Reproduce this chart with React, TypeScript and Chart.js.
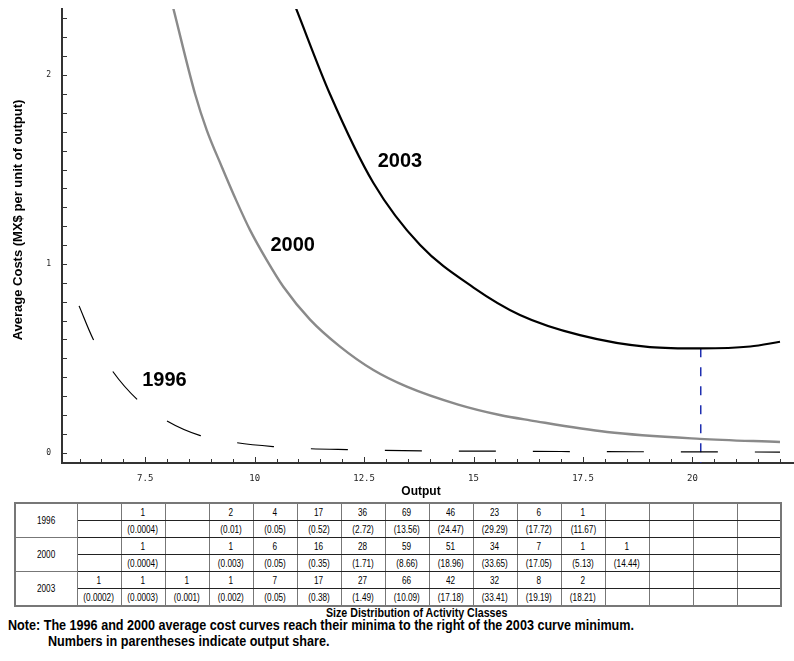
import React, { useEffect, useRef } from "react";
import { Chart, registerables } from "chart.js";

Chart.register(...registerables);

// ---- curve data (output, average cost) ----
const out2003 = [10.946, 11.72, 12.71, 13.78, 15.0, 16.06, 17.43, 19.03, 20.19, 21.32, 22.0];
const cost2003 = [2.353, 1.9, 1.43, 1.1, 0.875, 0.73, 0.623, 0.56, 0.553, 0.563, 0.588];

const out2000 = [8.143, 8.64, 8.906, 9.249, 9.592, 9.896, 10.277, 10.656, 11.266, 11.951, 12.712, 13.476, 14.65, 15.6, 16.29, 18.05, 20.17, 22.0];
const cost2000 = [2.353, 1.9, 1.709, 1.515, 1.33, 1.179, 1.02, 0.879, 0.705, 0.562, 0.438, 0.35, 0.255, 0.2, 0.172, 0.11, 0.074, 0.057];

const out1996 = [5.99, 6.31, 6.75, 7.32, 7.98, 8.76, 9.58, 10.42, 11.22, 12.11, 14.0, 16.0, 18.0, 20.0, 22.0];
const cost1996 = [0.778, 0.603, 0.434, 0.282, 0.171, 0.091, 0.054, 0.033, 0.022, 0.017, 0.01, 0.008, 0.006, 0.005, 0.004];

// minimum of the 2003 curve (vertical marker)
const minOut2003 = 20.19;
const minCost2003 = 0.553;

// curve labels
const curveLabels = ["2003", "2000", "1996"];
const curveLabelX = [13.32, 10.87, 7.94];
const curveLabelY = [1.54, 1.1, 0.385];

// axes
const xMin = 5.6;
const xMax = 22.32;
const yMin = -0.054;
const yMax = 2.35;
const xTickLabels = ["7.5", "10", "12.5", "15", "17.5", "20"];
const yTickLabels = ["0", "1", "2"];
const xTitle = "Output";
const yTitle = "Average Costs (MX$ per unit of output)";

// ---- table data ----
const tableYears = ["1996", "2000", "2003"];
const counts1996 = ["", "1", "", "2", "4", "17", "36", "69", "46", "23", "6", "1", "", "", "", ""];
const shares1996 = ["", "(0.0004)", "", "(0.01)", "(0.05)", "(0.52)", "(2.72)", "(13.56)", "(24.47)", "(29.29)", "(17.72)", "(11.67)", "", "", "", ""];
const counts2000 = ["", "1", "", "1", "6", "16", "28", "59", "51", "34", "7", "1", "1", "", "", ""];
const shares2000 = ["", "(0.0004)", "", "(0.003)", "(0.05)", "(0.35)", "(1.71)", "(8.66)", "(18.96)", "(33.65)", "(17.05)", "(5.13)", "(14.44)", "", "", ""];
const counts2003 = ["1", "1", "1", "1", "7", "17", "27", "66", "42", "32", "8", "2", "", "", "", ""];
const shares2003 = ["(0.0002)", "(0.0003)", "(0.001)", "(0.002)", "(0.05)", "(0.38)", "(1.49)", "(10.09)", "(17.18)", "(33.41)", "(19.19)", "(18.21)", "", "", "", ""];

const tableTitle = "Size Distribution of Activity Classes";
const note1 = "Note: The 1996 and 2000 average cost curves reach their minima to the right of the 2003 curve minimum.";
const note2 = "Numbers in parentheses indicate output share.";

const toPts = (xs: number[], ys: number[]) => xs.map((x, i) => ({ x, y: ys[i] }));

const overlayPlugin = {
  id: "overlay",
  afterDatasetsDraw(chart: any) {
    const { ctx, chartArea } = chart;
    const xs = chart.scales.x;
    const ys = chart.scales.y;
    ctx.save();
    ctx.strokeStyle = "#333";
    ctx.lineWidth = 1;
    // x minor ticks every 0.5 (inside)
    for (let v = 6; v <= 22.001; v += 0.5) {
      const px = Math.round(xs.getPixelForValue(v)) + 0.5;
      const major = Math.abs(v / 2.5 - Math.round(v / 2.5)) < 1e-6;
      ctx.beginPath();
      ctx.moveTo(px, chartArea.bottom);
      ctx.lineTo(px, chartArea.bottom - (major ? 6 : 4));
      ctx.stroke();
    }
    // y minor ticks every 0.1 (inside)
    for (let v = 0; v <= 2.3001; v += 0.1) {
      const py = Math.round(ys.getPixelForValue(v)) + 0.5;
      ctx.beginPath();
      ctx.moveTo(chartArea.left, py);
      ctx.lineTo(chartArea.left + 5, py);
      ctx.stroke();
    }
    // curve labels
    ctx.fillStyle = "#000";
    ctx.font = 'bold 20px "Liberation Sans", Arial, sans-serif';
    ctx.textAlign = "center";
    ctx.textBaseline = "middle";
    curveLabels.forEach((t, i) => {
      ctx.fillText(t, xs.getPixelForValue(curveLabelX[i]), ys.getPixelForValue(curveLabelY[i]));
    });
    // axis titles
    ctx.font = 'bold 12px "Liberation Sans", Arial, sans-serif';
    ctx.fillText(xTitle, 421, 492);
    ctx.save();
    ctx.translate(18, 220);
    ctx.rotate(-Math.PI / 2);
    ctx.font = 'bold 13px "Liberation Sans", Arial, sans-serif';
    ctx.fillText(yTitle, 0, 0);
    ctx.restore();
    ctx.restore();
  },
};

function ChartCanvas() {
  const ref = useRef<HTMLCanvasElement | null>(null);
  useEffect(() => {
    if (!ref.current) return;
    const chart = new Chart(ref.current, {
      type: "line",
      data: {
        datasets: [
          {
            label: "2003",
            data: toPts(out2003, cost2003),
            borderColor: "#000",
            borderWidth: 2.2,
            pointRadius: 0,
            cubicInterpolationMode: "monotone",
          },
          {
            label: "2000",
            data: toPts(out2000, cost2000),
            borderColor: "#8a8a8a",
            borderWidth: 2.4,
            pointRadius: 0,
            cubicInterpolationMode: "monotone",
          },
          {
            label: "1996",
            data: toPts(out1996, cost1996),
            borderColor: "#000",
            borderWidth: 1.2,
            borderDash: [37, 37],
            pointRadius: 0,
            cubicInterpolationMode: "monotone",
          },
          {
            label: "min2003",
            data: [
              { x: minOut2003, y: minCost2003 },
              { x: minOut2003, y: yMin },
            ],
            borderColor: "#1f2fb0",
            borderWidth: 1.5,
            borderDash: [9, 10],
            pointRadius: 0,
          },
        ],
      },
      options: {
        responsive: false,
        animation: false,
        devicePixelRatio: 1,
        layout: { padding: { left: 0, right: 0, top: 9, bottom: 0 } },
        plugins: { legend: { display: false }, tooltip: { enabled: false } },
        scales: {
          x: {
            type: "linear",
            min: xMin,
            max: xMax,
            grid: { display: false, drawTicks: false },
            border: { display: true, color: "#333", width: 2 },
            ticks: {
              stepSize: 2.5,
              autoSkip: false,
              includeBounds: false,
              maxRotation: 0,
              padding: 10,
              color: "#222",
              font: { family: '"DejaVu Sans Mono", monospace', size: 9 },
              callback: (v: any) => {
                const s = String(Math.round(Number(v) * 10) / 10);
                return xTickLabels.includes(s) ? s : "";
              },
            },
            afterFit: (s: any) => {
              s.height = 37;
              s.paddingLeft = 0;
              s.paddingRight = 0;
            },
          },
          y: {
            type: "linear",
            min: yMin,
            max: yMax,
            grid: { display: false, drawTicks: false },
            border: { display: true, color: "#333", width: 2 },
            ticks: {
              stepSize: 1,
              includeBounds: false,
              padding: 11,
              color: "#222",
              font: { family: '"DejaVu Sans Mono", monospace', size: 8 },
              callback: (v: any) => {
                const s = String(v);
                return yTickLabels.includes(s) ? s : "";
              },
            },
            afterFit: (s: any) => {
              s.width = 62;
              s.paddingTop = 0;
              s.paddingBottom = 0;
            },
          },
        },
      },
      plugins: [overlayPlugin],
    } as any);
    return () => chart.destroy();
  }, []);
  return (
    <canvas
      ref={ref}
      width={794}
      height={500}
      style={{ position: "absolute", left: 0, top: 0, width: 794, height: 500, display: "block" }}
    />
  );
}

const narrow = (text: string, scale = 0.82, style: React.CSSProperties = {}) => (
  <span style={{ display: "inline-block", transform: `scaleX(${scale})`, transformOrigin: "center", whiteSpace: "nowrap", ...style }}>
    {text}
  </span>
);

function DistTable() {
  const rows = [
    [counts1996, shares1996],
    [counts2000, shares2000],
    [counts2003, shares2003],
  ];
  const cellBase: React.CSSProperties = {
    padding: 0,
    height: 16,
    textAlign: "center",
    verticalAlign: "middle",
    fontSize: 10,
    lineHeight: "15px",
    borderTop: "1px solid #222",
    borderBottom: "1px solid #222",
    borderLeft: "1px solid #777",
    borderRight: "1px solid #777",
    overflow: "hidden",
  };
  return (
    <table
      style={{
        position: "absolute",
        left: 14,
        top: 502,
        width: 768,
        borderCollapse: "collapse",
        tableLayout: "fixed",
        border: "2px solid #777",
        fontFamily: '"Liberation Sans", Arial, sans-serif',
        color: "#000",
      }}
    >
      <colgroup>
        <col style={{ width: 62 }} />
        {counts1996.map((_, i) => (
          <col key={i} style={{ width: 44 }} />
        ))}
      </colgroup>
      <tbody>
        {rows.map(([c, s], r) => (
          <React.Fragment key={r}>
            <tr style={{ height: 16.8 }}>
              <td rowSpan={2} style={{ ...cellBase, borderTop: "1px solid #777", borderBottom: "1px solid #777" }}>
                {narrow(tableYears[r])}
              </td>
              {c.map((t, i) => (
                <td key={i} style={cellBase}>
                  {t ? narrow(t) : null}
                </td>
              ))}
            </tr>
            <tr style={{ height: 16.8 }}>
              {s.map((t, i) => (
                <td key={i} style={cellBase}>
                  {t ? narrow(t) : null}
                </td>
              ))}
            </tr>
          </React.Fragment>
        ))}
      </tbody>
    </table>
  );
}

export default function App() {
  return (
    <div
      style={{
        position: "absolute",
        left: 0,
        top: 0,
        width: 794,
        height: 661,
        background: "#fff",
        overflow: "hidden",
        fontFamily: '"Liberation Sans", Arial, sans-serif',
      }}
    >
      <ChartCanvas />
      <DistTable />
      <div
        style={{
          position: "absolute",
          left: 267,
          top: 605,
          width: 300,
          textAlign: "center",
          fontWeight: "bold",
          fontSize: 13,
          lineHeight: "16px",
        }}
      >
        {narrow(tableTitle)}
      </div>
      <div style={{ position: "absolute", left: 8, top: 617, fontWeight: "bold", fontSize: 14, lineHeight: "16px" }}>
        {narrow(note1, 0.9, { transformOrigin: "left" })}
      </div>
      <div style={{ position: "absolute", left: 48, top: 633, fontWeight: "bold", fontSize: 14, lineHeight: "16px" }}>
        {narrow(note2, 0.9, { transformOrigin: "left" })}
      </div>
    </div>
  );
}
